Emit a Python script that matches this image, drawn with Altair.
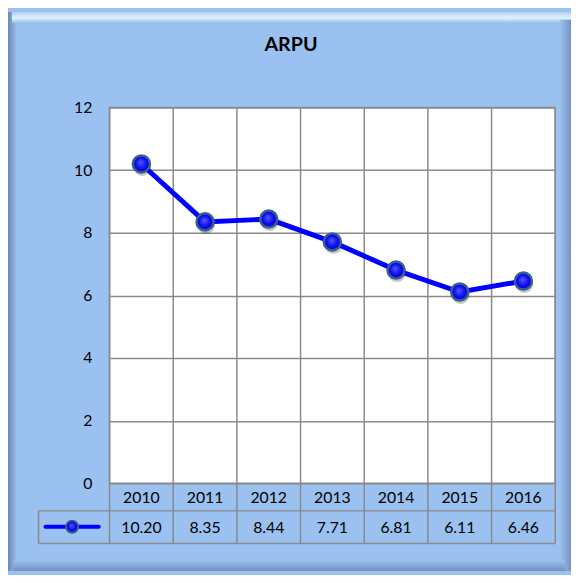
import altair as alt
import pandas as pd

# ---- data ----
years = ["2010", "2011", "2012", "2013", "2014", "2015", "2016"]
arpu = [10.20, 8.35, 8.44, 7.71, 6.81, 6.11, 6.46]
y_ticks = [0, 2, 4, 6, 8, 10, 12]
title_text = "ARPU"

df = pd.DataFrame({"year": years, "value": arpu,
                   "label": [f"{v:.2f}" for v in arpu]})
one = pd.DataFrame({"t": [title_text]})

BG = "#9BC1F0"
GRID = "#8A8A8A"
FONT = "Lato"

W, H = 452, 381           # plot area
PAD = {"left": 103, "top": 97, "right": 16, "bottom": 89}

xs = alt.Scale(type="band", domain=years, paddingInner=0, paddingOuter=0)
ys = alt.Scale(domain=[0, 12], nice=False, zero=True)

def X(**kw):
    return alt.X("year:N", scale=xs, axis=None, **kw)

def lin(stops, x2=1, y2=0):
    return alt.Gradient(gradient="linear",
                        stops=[alt.GradientStop(offset=o, color=c) for o, c in stops],
                        x1=0, y1=0, x2=x2, y2=y2)

base = alt.Chart(one)

# ---- frame bevels (decoration) ----
L0, T0 = -PAD["left"], -PAD["top"]
R1, B1 = W + PAD["right"], H + PAD["bottom"]
bevel_left = base.mark_rect(fill=lin([(0, "#6A88B2"), (1, BG)])).encode(
    x=alt.value(L0), x2=alt.value(L0 + 9), y=alt.value(T0), y2=alt.value(B1))
bevel_top = base.mark_rect(fill=lin([(0, "#B4CDEA"), (0.55, "#DDF3FF"), (1, BG)], x2=0, y2=1)).encode(
    x=alt.value(L0 + 4), x2=alt.value(R1), y=alt.value(T0), y2=alt.value(T0 + 11))
bevel_right = base.mark_rect(fill=lin([(0, BG), (1, "#7494C0")])).encode(
    x=alt.value(R1 - 11), x2=alt.value(R1), y=alt.value(T0 + 8), y2=alt.value(B1))
bevel_bottom = base.mark_rect(fill=lin([(0, BG), (1, "#7090BC")], x2=0, y2=1)).encode(
    x=alt.value(L0 + 6), x2=alt.value(R1 - 6), y=alt.value(B1 - 11), y2=alt.value(B1))

title = base.mark_text(font=FONT, fontSize=20, fontWeight="bold", color="black",
                       align="center", baseline="middle").encode(
    text="t:N", x=alt.value(184), y=alt.value(-63))

# ---- y axis / horizontal grid ----
yaxis = alt.Chart(df).mark_point(opacity=0).encode(
    x=X(bandPosition=0.5),
    y=alt.Y("value:Q", scale=ys, title=None,
            axis=alt.Axis(values=y_ticks, labelFont=FONT, labelFontSize=16,
                          labelColor="black", ticks=False, domain=False,
                          labelPadding=18, gridColor=GRID, gridWidth=1.5)))

# ---- vertical grid + table lines ----
vgrid = alt.Chart(df).mark_rule(color=GRID, strokeWidth=1.5).encode(
    x=X(bandPosition=0), y=alt.value(0), y2=alt.value(442))
vright = base.mark_rule(color=GRID, strokeWidth=1.5).encode(
    x=alt.value(W), y=alt.value(0), y2=alt.value(442))
hline1 = base.mark_rule(color=GRID, strokeWidth=1.5).encode(
    x=alt.value(-72), x2=alt.value(W), y=alt.value(409))
hline2 = base.mark_rule(color=GRID, strokeWidth=1.5).encode(
    x=alt.value(-72), x2=alt.value(W), y=alt.value(442))
vleft = base.mark_rule(color=GRID, strokeWidth=1.5).encode(
    x=alt.value(-72), y=alt.value(409), y2=alt.value(442))

year_txt = alt.Chart(df).mark_text(font=FONT, fontSize=16, color="black",
                                   baseline="middle").encode(
    x=X(bandPosition=0.5), y=alt.value(395.5), text="year:N")
val_txt = alt.Chart(df).mark_text(font=FONT, fontSize=16, color="black",
                                  baseline="middle").encode(
    x=X(bandPosition=0.5), y=alt.value(426), text="label:N")

# ---- series ----
marker_fill = alt.Gradient(gradient="radial",
                           stops=[alt.GradientStop(offset=0, color="#5A5AFF"),
                                  alt.GradientStop(offset=0.6, color="#1010F5"),
                                  alt.GradientStop(offset=1, color="#0000C0")],
                           x1=0.45, y1=0.4, r1=0, x2=0.5, y2=0.5, r2=0.5)

line = alt.Chart(df).mark_line(color="#0000FF", strokeWidth=5).encode(
    x=X(bandPosition=0.5), y=alt.Y("value:Q", scale=ys))
shadow = alt.Chart(df).mark_circle(color="#000000", opacity=0.22, size=330,
                                   yOffset=3, xOffset=1).encode(
    x=X(bandPosition=0.5), y=alt.Y("value:Q", scale=ys))
points = alt.Chart(df).mark_point(shape="circle", filled=True, fill=marker_fill,
                                  stroke="#35618F", strokeWidth=2.5, opacity=1,
                                  size=300).encode(
    x=X(bandPosition=0.5), y=alt.Y("value:Q", scale=ys))

# legend key in table
leg_line = base.mark_rule(color="#0000FF", strokeWidth=4, strokeCap="round").encode(
    x=alt.value(-65), x2=alt.value(-11), y=alt.value(425))
leg_pt = base.mark_point(shape="circle", filled=True, fill=marker_fill,
                         stroke="#35618F", strokeWidth=2, opacity=1, size=150).encode(
    x=alt.value(-38), y=alt.value(425))

chart = alt.layer(
    bevel_left, bevel_top, bevel_right, bevel_bottom, title,
    yaxis, vgrid, vright, hline1, hline2, vleft, year_txt, val_txt,
    line, shadow, points, leg_line, leg_pt
).properties(
    width=W, height=H,
    padding=PAD,
    autosize=alt.AutoSizeParams(type="none"),
    background=BG,
).configure_view(
    fill="white", stroke=GRID, strokeWidth=1.5
)

chart.save("out.html", embed_options={"renderer": "svg", "actions": False})
